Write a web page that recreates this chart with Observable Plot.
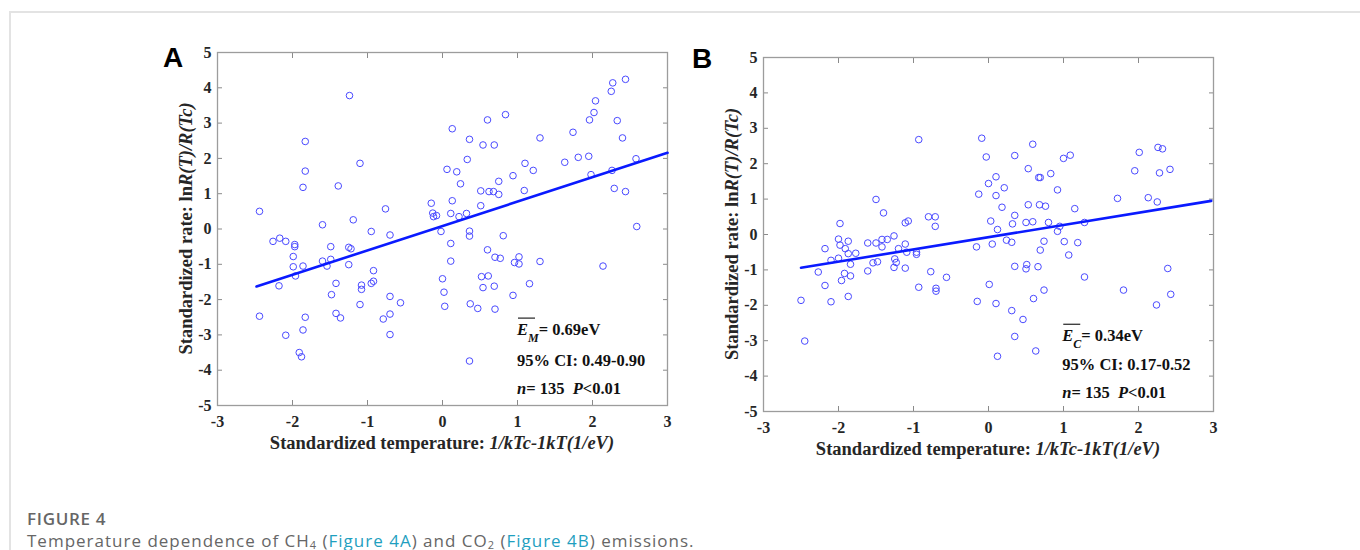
<!DOCTYPE html>
<html><head><meta charset="utf-8">
<script src="https://cdn.jsdelivr.net/npm/d3@7"></script>
<script src="https://cdn.jsdelivr.net/npm/@observablehq/plot@0.6"></script>
<style>
html,body{margin:0;padding:0;background:#fff;width:1360px;height:550px;overflow:hidden;}
#page{position:relative;width:1360px;height:550px;}
.border{position:absolute;left:9px;top:11px;width:1360px;height:560px;border-top:2px solid #e3e3e3;border-left:2px solid #e3e3e3;}
.panel{position:absolute;}
.letter{position:absolute;font-family:"Liberation Sans",Arial,sans-serif;font-weight:bold;font-size:28px;line-height:28px;color:#000;}
.figlabel{position:absolute;left:27px;top:510px;font-family:"Open Sans",sans-serif;font-weight:600;font-size:17px;line-height:17px;letter-spacing:0.7px;color:#666;}
.cap{position:absolute;left:27px;top:532px;font-family:"Open Sans",sans-serif;font-size:17px;line-height:17px;letter-spacing:1px;color:#666;white-space:nowrap;}
.cap a{color:#1f9fbf;text-decoration:none;}
.cap sub{font-size:11px;vertical-align:-2px;line-height:0;}
</style>
</head><body>
<div id="page">
  <div class="border"></div>
  <div class="letter" style="left:163px;top:44px;">A</div>
  <div class="letter" style="left:692px;top:45px;">B</div>
  <div id="pA" class="panel" style="left:150px;top:40px;"></div>
  <div id="pB" class="panel" style="left:696px;top:45px;"></div>
  <div class="figlabel">FIGURE 4</div>
  <div class="cap">Temperature dependence of CH<sub>4</sub> (<a>Figure 4A</a>) and CO<sub>2</sub> (<a>Figure 4B</a>) emissions.</div>
</div>
<script>
// ---------- data ----------
const xTicks = [-3, -2, -1, 0, 1, 2, 3];
const yTicks = [-5, -4, -3, -2, -1, 0, 1, 2, 3, 4, 5];

// Panel A: CH4
const aX = [-1.24,-1.83,-1.83,-1.86,-1.10,-1.39,-2.44,-1.60,-1.19,-0.76,-0.95,-0.70,
  -2.26,-2.17,-2.09,-1.97,-1.97,-1.99,-1.99,-1.86,-1.96,-2.18,-2.44,-2.09,-1.83,-1.86,-1.91,-1.88,-1.49,-1.60,-1.54,-1.49,-1.25,-1.22,-1.25,-1.42,-1.48,-1.42,-1.36,-1.10,-1.08,-1.08,-0.95,-0.92,-0.92,-0.70,-0.56,-0.79,-0.70,-0.70,
  2.44,2.27,2.25,2.04,2.02,1.96,2.33,2.40,1.74,1.30,0.84,0.60,0.13,0.36,0.54,0.69,0.33,0.06,0.19,0.24,-0.15,0.13,-0.13,-0.12,-0.08,0.11,0.22,0.32,0.51,0.51,0.62,0.68,0.75,0.75,0.94,1.10,1.21,1.09,1.63,1.81,1.95,1.98,2.26,2.29,2.44,2.58,2.59,-0.02,0.36,0.36,0.81,
  0.11,0.60,0.70,0.77,0.11,0.96,1.02,1.02,1.30,2.14,0.00,0.52,0.61,0.54,0.69,1.16,0.02,0.03,0.37,0.47,0.70,0.94,0.36];
const aY = [3.78,2.48,1.64,1.18,1.86,1.22,0.50,0.12,0.26,0.57,-0.07,-0.17,
  -0.35,-0.26,-0.35,-0.44,-0.50,-0.78,-1.07,-1.05,-1.33,-1.61,-2.47,-3.01,-2.50,-2.86,-3.50,-3.62,-0.50,-0.91,-1.05,-0.86,-0.52,-0.56,-1.01,-1.54,-1.86,-2.39,-2.52,-2.14,-1.59,-1.71,-1.54,-1.48,-1.18,-1.91,-2.09,-2.55,-2.41,-2.99,
  4.24,4.14,3.90,3.63,3.30,3.09,3.07,2.58,2.74,2.58,3.24,3.09,2.84,2.54,2.38,2.38,1.97,1.69,1.62,1.28,0.73,0.80,0.45,0.35,0.38,0.44,0.35,0.44,0.66,1.08,1.06,1.06,0.98,1.35,1.51,1.86,1.66,1.09,1.89,2.03,2.06,1.54,1.66,1.15,1.06,1.99,0.07,-0.07,-0.06,-0.20,-0.19,
  -0.41,-0.59,-0.80,-0.83,-0.91,-0.95,-0.79,-0.99,-0.92,-1.05,-1.41,-1.35,-1.33,-1.66,-1.62,-1.55,-1.79,-2.19,-2.12,-2.25,-2.27,-1.88,-3.74];
const fitAX = [-2.48, 3.0];
const fitAY = [-1.63, 2.16];
const statsA = {sub: "M", e: "= 0.69eV", ci: "95% CI: 0.49-0.90", n: "= 135  ", p: "<0.01"};

// Panel B: CO2
const bX = [-0.93,-1.50,-1.40,-1.98,-1.11,-1.07,-0.80,-0.71,-0.71,
  -2.00,-1.98,-1.87,-2.18,-1.91,-1.87,-1.77,-2.00,-2.10,-1.84,-2.27,-1.92,-1.84,-1.96,-2.18,-2.50,-2.10,-1.87,-2.45,-1.61,-1.50,-1.42,-1.42,-1.35,-1.26,-1.20,-1.11,-1.09,-1.61,-1.54,-1.48,-1.25,-1.23,-1.26,-1.11,-0.96,-0.96,-0.77,-0.56,-0.93,-0.70,-0.70,
  -0.09,0.59,-0.03,0.35,1.00,1.09,0.53,0.67,0.69,0.83,0.10,0.00,0.21,-0.13,0.10,0.92,0.18,0.53,0.68,0.76,1.15,0.35,0.03,0.32,0.50,0.59,0.80,1.28,0.12,0.95,0.92,1.72,2.13,2.25,1.95,2.28,2.42,2.01,2.26,2.32,
  -0.16,0.05,0.24,0.31,0.74,1.01,1.19,0.69,1.07,0.35,0.51,0.50,0.66,1.28,2.39,0.01,-0.15,0.10,0.31,0.46,0.60,0.74,0.35,0.12,0.63,1.80,2.24,2.43];
const bY = [2.68,0.99,0.61,0.31,0.33,0.38,0.50,0.50,0.23,
  -0.13,-0.30,-0.19,-0.40,-0.40,-0.54,-0.53,-0.67,-0.73,-0.84,-1.06,-1.10,-1.17,-1.30,-1.44,-1.86,-1.90,-1.75,-3.01,-0.24,-0.24,-0.14,-0.35,-0.14,-0.04,-0.40,-0.27,-0.50,-1.03,-0.80,-0.77,-0.69,-0.79,-0.93,-0.95,-0.50,-0.56,-1.05,-1.21,-1.49,-1.52,-1.60,
  2.72,2.55,2.19,2.23,2.15,2.24,1.86,1.61,1.61,1.72,1.63,1.44,1.32,1.14,1.10,1.26,0.77,0.84,0.84,0.80,0.73,0.54,0.38,0.30,0.34,0.36,0.34,0.34,0.14,0.23,0.09,1.02,1.04,0.92,1.80,1.74,1.84,2.32,2.46,2.42,
  -0.35,-0.27,-0.16,-0.22,-0.19,-0.20,-0.23,-0.44,-0.58,-0.90,-0.85,-0.97,-0.91,-1.20,-0.96,-1.41,-1.89,-1.95,-2.15,-2.40,-1.81,-1.57,-2.88,-3.44,-3.29,-1.57,-1.99,-1.69];
const fitBX = [-2.50, 2.97];
const fitBY = [-0.94, 0.95];
const statsB = {sub: "C", e: "= 0.34eV", ci: "95% CI: 0.17-0.52", n: "= 135  ", p: "<0.01"};

const xLabelPlain = "Standardized temperature: ";
const xLabelItalic = "1/kTc-1kT(1/eV)";
const yLabelPlain = "Standardized rate: ln";
const yLabelItalic = "R(T)/R(Tc)";

// ---------- drawing ----------
const fmt = d => (d < 0 ? "-" + (-d) : String(d));
const noText = () => "";
const SERIF = "'Liberation Serif','Times New Roman',serif";

function panel(xs, ys, fx, fy, stats, marginBottom, annotAt) {
  const idx = d3.range(xs.length);
  const fidx = d3.range(fx.length);
  const tickStroke = "#8a8a8a";
  const plot = Plot.plot({
    width: 540, height: 420,
    marginLeft: 67, marginRight: 23, marginTop: 12, marginBottom,
    x: {domain: [-3, 3]},
    y: {domain: [-5, 5]},
    style: {fontFamily: SERIF, fontSize: "16px", fontWeight: "bold", color: "#262626", background: "transparent"},
    marks: [
      Plot.axisX({anchor: "bottom", ticks: xTicks, tickSize: 5, insetBottom: 5, tickFormat: noText, label: null, stroke: tickStroke}),
      Plot.axisX({anchor: "top", ticks: xTicks, tickSize: 5, insetTop: 5, tickFormat: noText, label: null, stroke: tickStroke}),
      Plot.axisY({anchor: "left", ticks: yTicks, tickSize: 5, insetLeft: 5, tickFormat: noText, label: null, stroke: tickStroke}),
      Plot.axisY({anchor: "right", ticks: yTicks, tickSize: 5, insetRight: 5, tickFormat: noText, label: null, stroke: tickStroke}),
      Plot.axisX({anchor: "bottom", ticks: xTicks, tickSize: 0, tickPadding: 10, tickFormat: fmt, label: null}),
      Plot.axisY({anchor: "left", ticks: yTicks, tickSize: 0, tickPadding: 6, tickFormat: fmt, label: null}),
      Plot.frame({stroke: "#9c9c9c", strokeWidth: 1.3}),
      Plot.dot(idx, {x: i => xs[i], y: i => ys[i], r: 3.3, stroke: "#4a4aff", strokeWidth: 1, fill: "none"}),
      Plot.line(fidx, {x: i => fx[i], y: i => fy[i], stroke: "#0a1aff", strokeWidth: 2.6})
    ]
  });
  const xScale = plot.scale("x"), yScale = plot.scale("y");
  const sx = v => xScale.apply(v), sy = v => yScale.apply(v);
  const svg = d3.select(plot);
  const [l, r] = xScale.range, [b, t] = yScale.range;
  // x label
  const xl = svg.append("text").attr("x", (l + r) / 2).attr("y", b + 44)
    .attr("text-anchor", "middle").attr("font-family", SERIF).attr("font-size", 18.5)
    .attr("font-weight", "bold").attr("fill", "#262626");
  xl.append("tspan").text(xLabelPlain);
  xl.append("tspan").attr("font-style", "italic").text(xLabelItalic);
  // y label
  const yl = svg.append("text").attr("transform", `translate(${l - 25},${(b + t) / 2}) rotate(-90)`)
    .attr("text-anchor", "middle").attr("font-family", SERIF).attr("font-size", 18.5)
    .attr("font-weight", "bold").attr("fill", "#262626");
  yl.append("tspan").text(yLabelPlain);
  yl.append("tspan").attr("font-style", "italic").text(yLabelItalic);
  // annotation
  const ax = sx(annotAt[0]);
  const lines = annotAt.slice(1).map(v => sy(v));
  const g = svg.append("g").attr("font-family", SERIF).attr("font-size", 16.5)
    .attr("font-weight", "bold").attr("fill", "#111").attr("text-anchor", "start");
  const t1 = g.append("text").attr("x", ax).attr("y", lines[0]);
  t1.append("tspan").attr("font-style", "italic").text("E");
  t1.append("tspan").attr("font-style", "italic").attr("font-size", 12).attr("dy", 7).text(stats.sub);
  t1.append("tspan").attr("dy", -7).text(stats.e);
  g.append("line").attr("x1", ax + 1).attr("x2", ax + 18).attr("y1", lines[0] - 17).attr("y2", lines[0] - 17)
    .attr("stroke", "#222").attr("stroke-width", 1.2);
  g.append("text").attr("x", ax).attr("y", lines[1]).text(stats.ci);
  const t3 = g.append("text").attr("x", ax).attr("y", lines[2]).style("white-space", "pre");
  t3.append("tspan").attr("font-style", "italic").text("n");
  t3.append("tspan").text(stats.n);
  t3.append("tspan").attr("font-style", "italic").text("P");
  t3.append("tspan").text(stats.p);
  return plot;
}

document.getElementById("pA").append(panel(aX, aY, fitAX, fitAY, statsA, 55, [1.0, -3.02, -3.89, -4.69]));
document.getElementById("pB").append(panel(bX, bY, fitBX, fitBY, statsB, 54, [0.99, -3.03, -3.83, -4.63]));
</script>
</body></html>
